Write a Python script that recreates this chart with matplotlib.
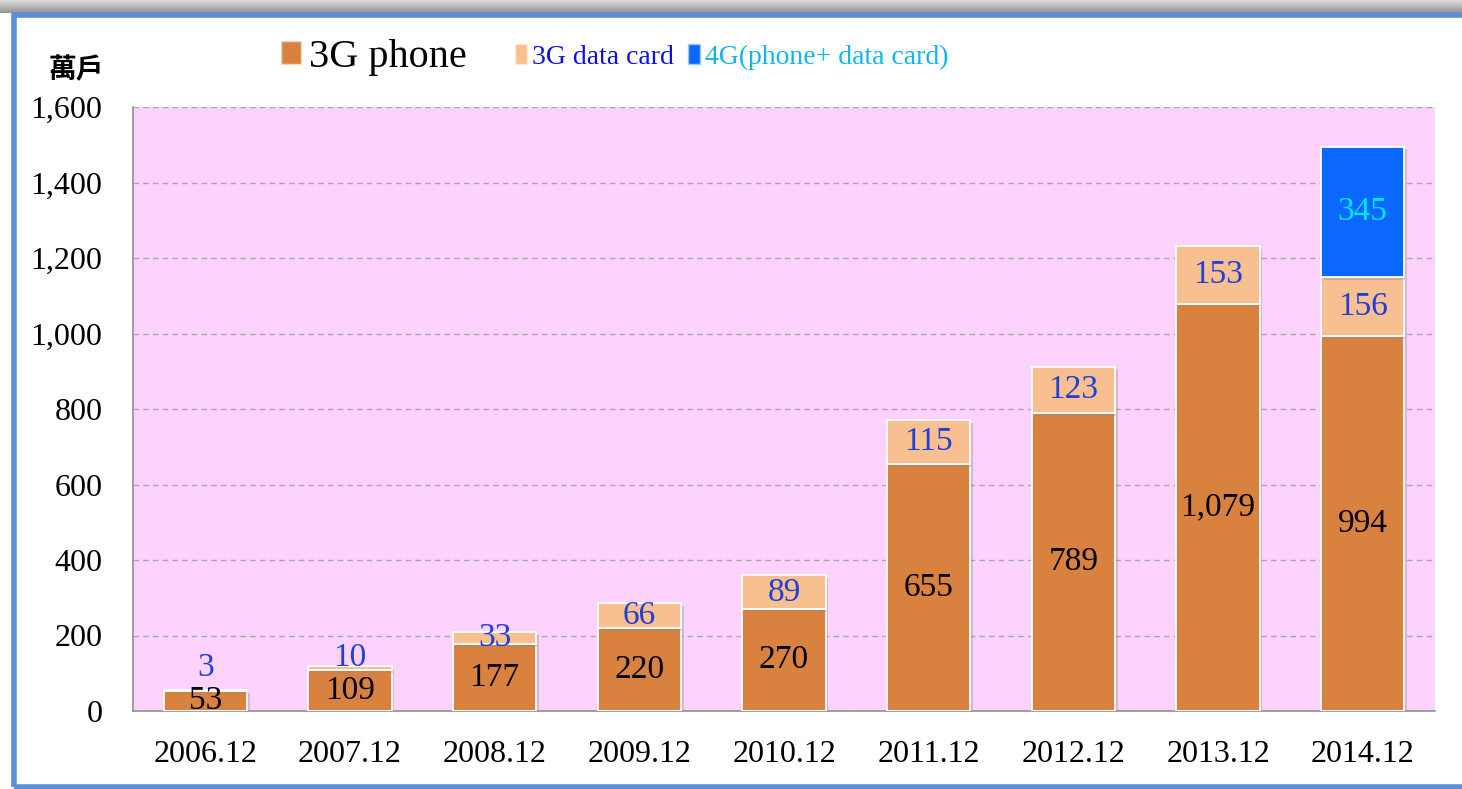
import matplotlib
matplotlib.use("Agg")
import matplotlib.pyplot as plt
import numpy as np
from matplotlib.patches import Rectangle, Patch
import matplotlib.patheffects as pe

categories = ["2006.12", "2007.12", "2008.12", "2009.12", "2010.12",
              "2011.12", "2012.12", "2013.12", "2014.12"]
phone_3g = [53, 109, 177, 220, 270, 655, 789, 1079, 994]
card_3g = [3, 10, 33, 66, 89, 115, 123, 153, 156]
lte_4g = [0, 0, 0, 0, 0, 0, 0, 0, 345]
series_names = ["3G phone", "3G data card", "4G(phone+ data card)"]
yticks = [0, 200, 400, 600, 800, 1000, 1200, 1400, 1600]

c_phone = "#D9823F"
c_card = "#F8C090"
c_4g = "#0A68FF"
serif = ["Liberation Serif", "DejaVu Serif"]

W, H = 1462, 789
fig = plt.figure(figsize=(W / 100, H / 100), dpi=100)
fig.patch.set_facecolor("white")

# top shadow
sh = fig.add_axes([0, 1 - 13 / H, 1, 13 / H])
grad = np.linspace(0.86, 0.58, 50).reshape(-1, 1)
sh.imshow(np.dstack([grad, grad, grad]), aspect="auto", extent=[0, 1, 0, 1])
sh.axis("off")

# blue frame
fig.patches.append(Rectangle((13.5 / W, 2 / H), 1.2, 1 - 17 / H, transform=fig.transFigure,
                             fill=False, edgecolor="#5B8FD6", linewidth=4, zorder=5))

ax = fig.add_axes([133 / W, 1 - 711 / H, (1435 - 133) / W, (711 - 107) / H])
ax.set_facecolor("#FDD3FD")
x = np.arange(len(categories))
bw = 0.575
shadow = [pe.SimplePatchShadow(offset=(2, -2), shadow_rgbFace="#888888", alpha=0.35), pe.Normal()]

phone = np.array(phone_3g)
card = np.array(card_3g)
g4 = np.array(lte_4g)
ax.set_xlim(-0.5, len(x) - 0.5)
ax.set_ylim(0, 1600)

ax.bar(x, phone, bw, color=c_phone, edgecolor="white", linewidth=1.3, zorder=3, path_effects=shadow)
ax.bar(x, card, bw, bottom=phone, color=c_card, edgecolor="white", linewidth=1.3, zorder=3, path_effects=shadow)
mask = g4 > 0
ax.bar(x[mask], g4[mask], bw, bottom=(phone + card)[mask], color=c_4g, edgecolor="white",
       linewidth=1.3, zorder=3, path_effects=shadow)

px_per_unit = ((711 - 107)) / 1600.0
min_gap_units = 33 / px_per_unit  # keep labels from overlapping the label below

for i in range(len(x)):
    ax.text(x[i], phone[i] / 2, f"{phone[i]:,}", ha="center", va="center", fontsize=24,
            family=serif, color="black", zorder=4)
    top = phone[i] + card[i]
    ycard = max(phone[i] + card[i] / 2, phone[i] / 2 + min_gap_units)
    ax.text(x[i], ycard, f"{card[i]:,}", ha="center", va="center", fontsize=24,
            family=serif, color="#1F3FD8", zorder=4)
    if g4[i] > 0:
        ax.text(x[i], top + g4[i] / 2, f"{g4[i]:,}", ha="center", va="center", fontsize=24,
                family=serif, color="#00E8FF", zorder=4)

ax.set_yticks(yticks)
ax.set_yticklabels([f"{v:,}" for v in yticks], family=serif, fontsize=23)
ax.set_xticks(x)
ax.set_xticklabels(categories, family=serif, fontsize=23)
ax.tick_params(axis="y", length=0, pad=22)
ax.tick_params(axis="x", length=0, pad=21)
ax.yaxis.grid(True, linestyle=(0, (4, 3)), color="#A8A8A8", linewidth=1)
ax.set_axisbelow(True)
for s in ["top", "right"]:
    ax.spines[s].set_visible(False)
for s in ["left", "bottom"]:
    ax.spines[s].set_color("#909090")
    ax.spines[s].set_linewidth(1.2)

fig.text(76 / W, 1 - 70 / H, "萬戶", family=["Noto Sans CJK TC", "DejaVu Sans"], fontsize=20,
         fontweight="bold", ha="center", va="center")

handles = [Patch(facecolor=c_phone, edgecolor="#F5D8C0"),
           Patch(facecolor=c_card, edgecolor="#FCE8D8"),
           Patch(facecolor=c_4g, edgecolor="#A0C8FF")]
cols = ["black", "#1010E0", "#10B8E8"]
sizes = [29, 20, 20]
anchors = [281, 515, 688]
hlen = [0.5, 0.42, 0.42]
hhei = [0.5, 0.72, 0.72]
for h, name, c, s, ax_x, hl, hh in zip(handles, series_names, cols, sizes, anchors, hlen, hhei):
    lg = fig.legend([h], [name], loc="center left", bbox_to_anchor=(ax_x / W, 1 - 57 / H),
                    frameon=False, handlelength=hl, handleheight=hh, handletextpad=0.2,
                    prop={"family": serif, "size": s}, borderaxespad=0, borderpad=0)
    for t in lg.get_texts():
        t.set_color(c)

fig.savefig("out.png", dpi=100)
